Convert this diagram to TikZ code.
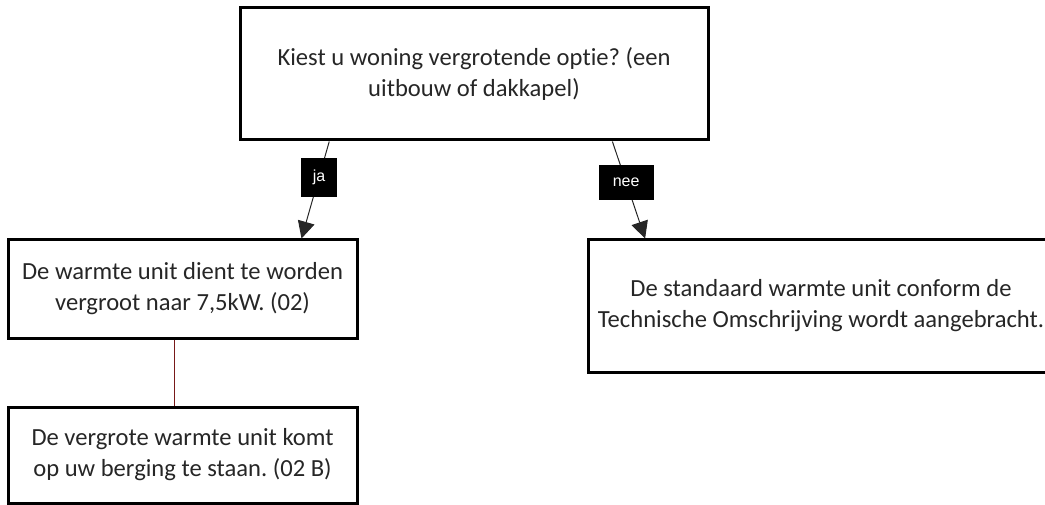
\documentclass[tikz,border=0pt]{standalone}
\usepackage{fontspec}
\setmainfont{Carlito}[Ligatures=CommonOff]
\newfontfamily\labelfont{Liberation Sans}
\usetikzlibrary{arrows.meta, positioning}
\definecolor{linkred}{RGB}{120, 25, 25}
\frenchspacing

\tikzset{
  box/.style={rectangle, draw, line width=3pt, align=center, inner sep=0pt,
    text=black!85, font=\fontsize{24.6}{31}\selectfont},
  tag/.style={fill=black, text=white, inner sep=0pt,
    font=\labelfont\fontsize{16}{18}\selectfont},
  pijl/.style={draw=black!85, line width=1pt, -{Triangle[length=17pt,width=17pt]}}
}

\begin{document}
\begin{tikzpicture}[x=1pt, y=-1pt]
    \clip (0,0) rectangle (1045,505);
    \node[box, minimum width=468pt, minimum height=132pt] (vraag) at (474,74)
        {Kiest u woning vergrotende optie? (een\\uitbouw of dakkapel)};
    \node[box, minimum width=349pt, minimum height=98pt] (groot) at (182.5,289)
        {De warmte unit dient te worden\\vergroot naar 7,5kW. (02)};
    \node[box, minimum width=349pt, minimum height=96pt] (berging) at (182.5,455)
        {De vergrote warmte unit komt\\op uw berging te staan. (02 B)};
    \node[box, minimum width=466pt, minimum height=132pt] (standaard) at (821,306)
        {De standaard warmte unit conform de\\Technische Omschrijving wordt aangebracht.};

    \draw[pijl] (vraag.205.7) -- node[tag, pos=0.37, minimum width=36pt, minimum height=39pt] (ja) {ja} (groot.23.4);
    \draw[pijl] (vraag.334.9) -- node[tag, pos=0.42, minimum width=55pt, minimum height=35pt] (nee) {nee} (standaard.159.4);
    \draw[linkred, line width=0.8pt] (groot.261) -- (groot.261 |- berging.north);
\end{tikzpicture}
\end{document}
